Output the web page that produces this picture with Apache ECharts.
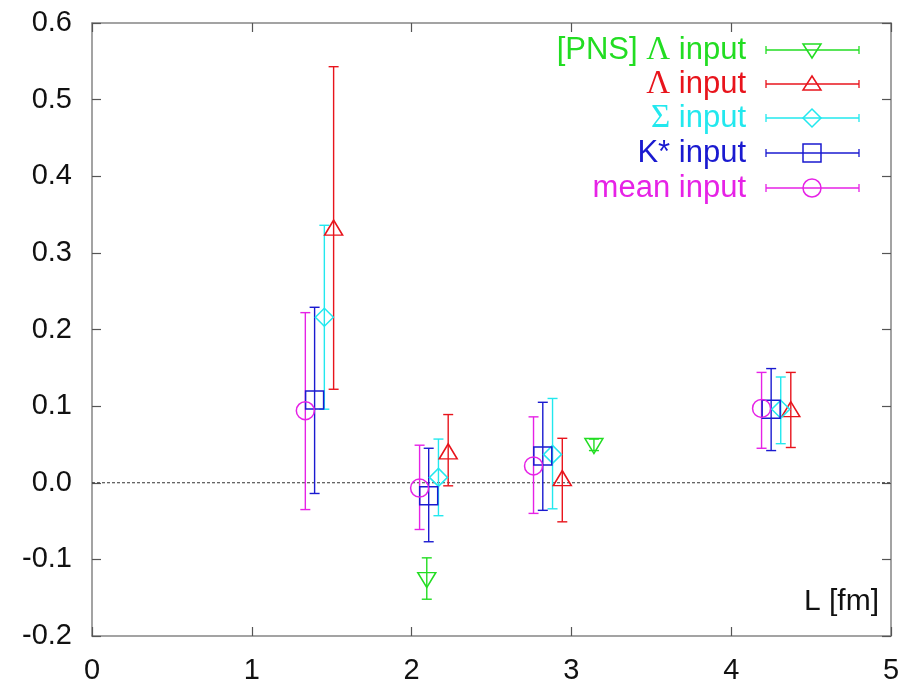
<!doctype html>
<html>
	<head>
		<meta charset="UTF-8">
		<title></title>
		<script src="https://cdn.jsdelivr.net/npm/echarts@6/dist/echarts.min.js"></script>
		<style type="text/css">
			html, body {
				margin: 0;
				padding: 0;
				background: #fff;
			}
			#chart {
				width: 914px;
				height: 686px;
			}
		</style>
	</head>
	<body>
		<div id="chart"></div>
		<script type="text/javascript">
			// 坐标轴
			var xTicks = [0, 1, 2, 3, 4, 5];
			var yTicks = [-0.2, -0.1, 0.0, 0.1, 0.2, 0.3, 0.4, 0.5, 0.6];
			var xName = 'L [fm]';

			// 各组数据: L, 中心值, 误差下限, 误差上限
			var names = ['[PNS] Λ input', 'Λ input', 'Σ input', 'K* input', 'mean input'];

			var pnsL   = [2.095, 3.141];
			var pnsVal = [-0.127, 0.048];
			var pnsLo  = [-0.152, 0.042];
			var pnsHi  = [-0.098, 0.057];

			var lamL   = [1.512, 2.229, 2.943, 4.373];
			var lamVal = [0.333, 0.041, 0.006, 0.096];
			var lamLo  = [0.122, -0.004, -0.051, 0.046];
			var lamHi  = [0.543, 0.089, 0.058, 0.144];

			var sigL   = [1.454, 2.168, 2.882, 4.31];
			var sigVal = [0.216, 0.007, 0.037, 0.096];
			var sigLo  = [0.096, -0.043, -0.034, 0.051];
			var sigHi  = [0.336, 0.057, 0.110, 0.138];

			var kstL   = [1.393, 2.107, 2.821, 4.25];
			var kstVal = [0.108, -0.017, 0.035, 0.096];
			var kstLo  = [-0.014, -0.077, -0.036, 0.042];
			var kstHi  = [0.229, 0.045, 0.105, 0.149];

			var meanL   = [1.335, 2.05, 2.763, 4.19];
			var meanVal = [0.094, -0.007, 0.022, 0.097];
			var meanLo  = [-0.035, -0.061, -0.040, 0.045];
			var meanHi  = [0.222, 0.049, 0.086, 0.144];

			var colors = ['#22dd22', '#e8141c', '#22e8ee', '#1a1ad0', '#e622e6'];
			var symbols = ['triangle', 'triangle', 'diamond', 'rect', 'circle'];
			var rotates = [180, 0, 0, 0, 0];
			var sizes = [[18, 15], [18, 15], 18, 18, 18];

			var groups = [
				[pnsL, pnsVal, pnsLo, pnsHi],
				[lamL, lamVal, lamLo, lamHi],
				[sigL, sigVal, sigLo, sigHi],
				[kstL, kstVal, kstLo, kstHi],
				[meanL, meanVal, meanLo, meanHi]
			];

			var chart = echarts.init(document.getElementById('chart'));

			var axisLineStyle = { color: '#858585', width: 1.5 };
			var tickStyle = { color: '#555', width: 1.2 };
			var labelFont = { fontFamily: 'Liberation Sans', fontSize: 29, color: '#111' };

			var series = [];
			// 零线
			series.push({
				type: 'line',
				data: [[xTicks[0], 0], [xTicks[xTicks.length - 1], 0]],
				symbol: 'none',
				silent: true,
				lineStyle: { color: '#333', width: 1, type: [3, 2] },
				z: 1
			});

			groups.forEach(function (g, i) {
				var c = colors[i];
				var barData = g[0].map(function (x, k) { return [x, g[2][k], g[3][k]]; });
				var ptData = g[0].map(function (x, k) { return [x, g[1][k]]; });
				// 误差棒
				series.push({
					type: 'custom',
					name: names[i],
					data: barData,
					encode: { x: 0, y: [1, 2] },
					silent: true,
					z: 2,
					renderItem: function (params, api) {
						var x = api.value(0);
						var p1 = api.coord([x, api.value(1)]);
						var p2 = api.coord([x, api.value(2)]);
						var w = 5;
						var st = { stroke: c, lineWidth: 1.4 };
						return {
							type: 'group',
							children: [
								{ type: 'line', shape: { x1: p1[0], y1: p1[1], x2: p2[0], y2: p2[1] }, style: st },
								{ type: 'line', shape: { x1: p1[0] - w, y1: p1[1], x2: p1[0] + w, y2: p1[1] }, style: st },
								{ type: 'line', shape: { x1: p2[0] - w, y1: p2[1], x2: p2[0] + w, y2: p2[1] }, style: st }
							]
						};
					}
				});
				// 点
				series.push({
					type: 'scatter',
					name: names[i],
					data: ptData,
					symbol: symbols[i],
					symbolRotate: rotates[i],
					symbolSize: sizes[i],
					silent: true,
					z: 3,
					itemStyle: { color: 'rgba(0,0,0,0)', borderColor: c, borderWidth: 1.5, opacity: 1 }
				});
			});

			// 图例 (gnuplot 风格)
			var legendGraphics = [];
			var legX = 746, lineX1 = 766, lineX2 = 859, symX = 812;
			var rowY = [50, 84, 118, 153, 188];
			var legTexts = ['[PNS] {s|Λ} input', '{s|Λ} input', '{s|Σ} input', 'K* input', 'mean input'];
			names.forEach(function (n, i) {
				var c = colors[i];
				var y = rowY[i];
				var st = { stroke: c, lineWidth: 1.3 };
				legendGraphics.push({
					type: 'text',
					x: legX, y: y,
					style: {
						text: legTexts[i],
						fill: c,
						fontFamily: 'Liberation Sans',
						fontSize: 31,
						align: 'right',
						verticalAlign: 'middle',
						rich: { s: { fontFamily: 'Liberation Serif', fontSize: 33, fill: c } }
					}
				});
				legendGraphics.push({ type: 'line', shape: { x1: lineX1, y1: y, x2: lineX2, y2: y }, style: st });
				legendGraphics.push({ type: 'line', shape: { x1: lineX1, y1: y - 4, x2: lineX1, y2: y + 4 }, style: st });
				legendGraphics.push({ type: 'line', shape: { x1: lineX2, y1: y - 4, x2: lineX2, y2: y + 4 }, style: st });
				var sst = { fill: 'none', stroke: c, lineWidth: 1.5 };
				var h = 9;
				if (i === 0) {
					legendGraphics.push({ type: 'polygon', shape: { points: [[symX - h, y - 6], [symX + h, y - 6], [symX, y + 8]] }, style: sst });
				} else if (i === 1) {
					legendGraphics.push({ type: 'polygon', shape: { points: [[symX - h, y + 6], [symX + h, y + 6], [symX, y - 8]] }, style: sst });
				} else if (i === 2) {
					legendGraphics.push({ type: 'polygon', shape: { points: [[symX - h, y], [symX, y - h], [symX + h, y], [symX, y + h]] }, style: sst });
				} else if (i === 3) {
					legendGraphics.push({ type: 'rect', shape: { x: symX - h, y: y - h, width: 2 * h, height: 2 * h }, style: sst });
				} else {
					legendGraphics.push({ type: 'circle', shape: { cx: symX, cy: y, r: h }, style: sst });
				}
			});
			legendGraphics.push({
				type: 'text',
				x: 879, y: 602,
				style: {
					text: xName,
					fill: '#111',
					fontFamily: 'Liberation Sans',
					fontSize: 30,
					align: 'right',
					verticalAlign: 'middle'
				}
			});

			var option = {
				animation: false,
				backgroundColor: '#fff',
				grid: { left: 92, right: 23, top: 23, bottom: 50 },
				xAxis: [
					{
						type: 'value', min: xTicks[0], max: xTicks[xTicks.length - 1], interval: 1,
						position: 'bottom',
						axisLine: { show: true, onZero: false, lineStyle: axisLineStyle },
						axisTick: { show: true, inside: true, length: 9, lineStyle: tickStyle },
						axisLabel: Object.assign({ margin: 20 }, labelFont),
						splitLine: { show: false }
					},
					{
						type: 'value', min: xTicks[0], max: xTicks[xTicks.length - 1], interval: 1,
						position: 'top',
						axisLine: { show: true, onZero: false, lineStyle: axisLineStyle },
						axisTick: { show: true, inside: true, length: 9, lineStyle: tickStyle },
						axisLabel: { show: false },
						splitLine: { show: false }
					}
				],
				yAxis: [
					{
						type: 'value', min: yTicks[0], max: yTicks[yTicks.length - 1], interval: 0.1,
						position: 'left',
						axisLine: { show: true, onZero: false, lineStyle: axisLineStyle },
						axisTick: { show: true, inside: true, length: 9, lineStyle: tickStyle },
						axisLabel: Object.assign({
							margin: 20,
							formatter: function (v) { return v.toFixed(1); }
						}, labelFont),
						splitLine: { show: false }
					},
					{
						type: 'value', min: yTicks[0], max: yTicks[yTicks.length - 1], interval: 0.1,
						position: 'right',
						axisLine: { show: true, onZero: false, lineStyle: axisLineStyle },
						axisTick: { show: true, inside: true, length: 9, lineStyle: tickStyle },
						axisLabel: { show: false },
						splitLine: { show: false }
					}
				],
				graphic: legendGraphics,
				series: series
			};
			chart.setOption(option);
		</script>
	</body>
</html>
